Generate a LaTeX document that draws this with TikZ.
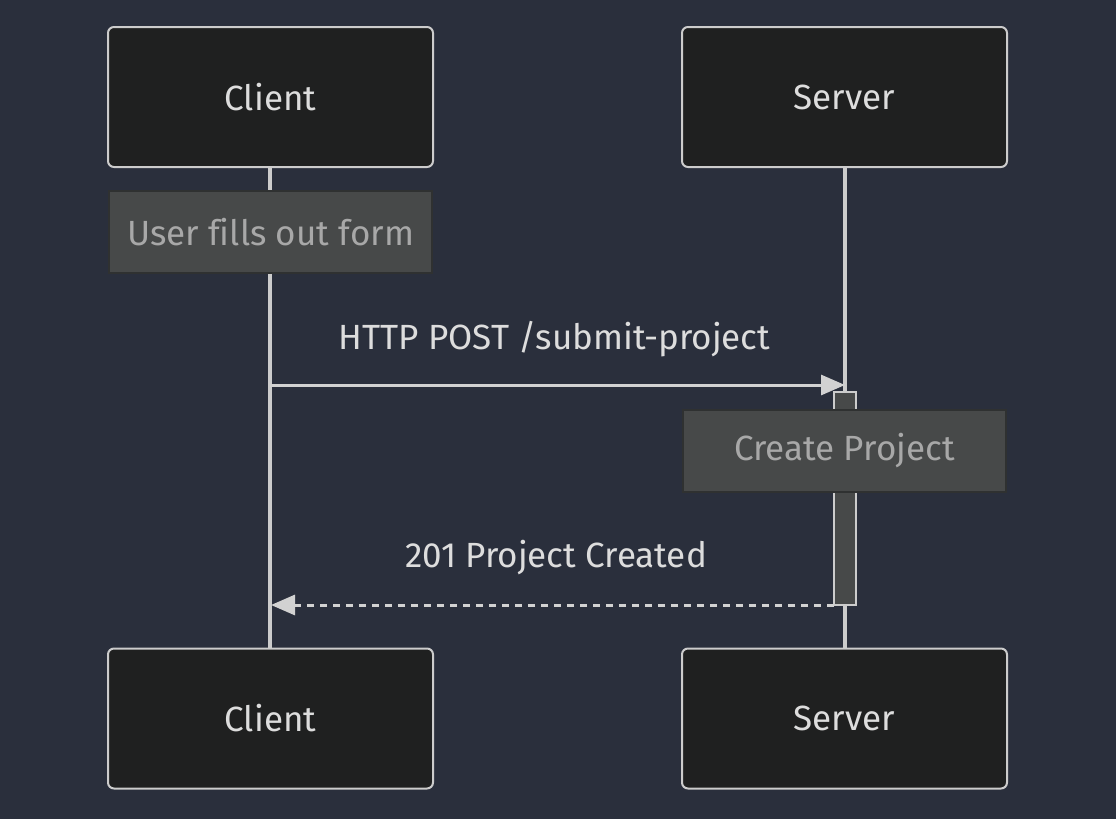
\documentclass[tikz,border=0pt]{standalone}
\usepackage{fontspec}
\setmainfont[Ligatures=NoCommon]{Fira Sans}
\usetikzlibrary{arrows.meta}
\definecolor{bg}{HTML}{2A2F3C}
\definecolor{actfill}{HTML}{1F2020}
\definecolor{actline}{HTML}{CCCCCC}
\definecolor{acttext}{HTML}{DDDDDD}
\definecolor{notefill}{HTML}{474949}
\definecolor{noteline}{HTML}{2F3131}
\definecolor{notetext}{HTML}{A8A8A8}
\definecolor{msgline}{HTML}{D2D2D2}
\tikzset{
  actor/.style={draw=actline, line width=2pt, fill=actfill, rounded corners=6pt,
    minimum width=325pt, minimum height=140pt, inner sep=0pt, text=acttext,
    font=\fontsize{35}{40}\selectfont},
  note/.style={draw=noteline, line width=2pt, fill=notefill,
    minimum width=323pt, minimum height=82pt, inner sep=0pt, text=notetext,
    font=\fontsize{35}{40}\selectfont},
  lifeline/.style={draw=actline, line width=3.5pt},
  msg/.style={draw=msgline, line width=3pt, -{Triangle[length=24pt,width=20pt]}},
  lbl/.style={text=acttext, font=\fontsize{35}{40}\selectfont, inner sep=0pt},
  actbox/.style={draw=actline, line width=2pt, fill=notefill, minimum width=22pt, minimum height=213pt, inner sep=0pt}
}
\begin{document}
\begin{tikzpicture}[x=1pt,y=-1pt]
\useasboundingbox[fill=bg] (0,0) rectangle (1116,819);
% lifelines
\coordinate (ct) at (270,167);
\coordinate (cb) at (270,648);
\coordinate (st) at (845,167);
\coordinate (sb) at (845,648);
\draw[lifeline] (ct) -- (cb);
\draw[lifeline] (st) -- (sb);
% actors
\node[actor] (c1) at (270.5,97) {Client};
\node[actor] (s1) at (844.5,97) {Server};
\node[actor] (c2) at (270.5,718.5) {Client};
\node[actor] (s2) at (844.5,718.5) {Server};
% note 1
\node[note] (n1) at (270.5,232) {User fills out form};
% message 1
\coordinate (m1a) at (270,385);
\coordinate (m1b) at (845,385);
\draw[msg] (m1a) -- (m1b);
\node[lbl] (l1) at (554.5,339) {HTTP POST /submit-project};
% activation
\node[actbox] (act) at (845,498.5) {};
% note 2
\node[note] (n2) at (844.5,450.5) {Create Project};
% message 2
\coordinate (m2a) at (834,605);
\coordinate (m2b) at (271,605);
\draw[msg, dash pattern=on 7pt off 6pt] (m2a) -- (m2b);
\node[lbl] (l2) at (556,558) {201 Project Created};
\end{tikzpicture}
\end{document}
